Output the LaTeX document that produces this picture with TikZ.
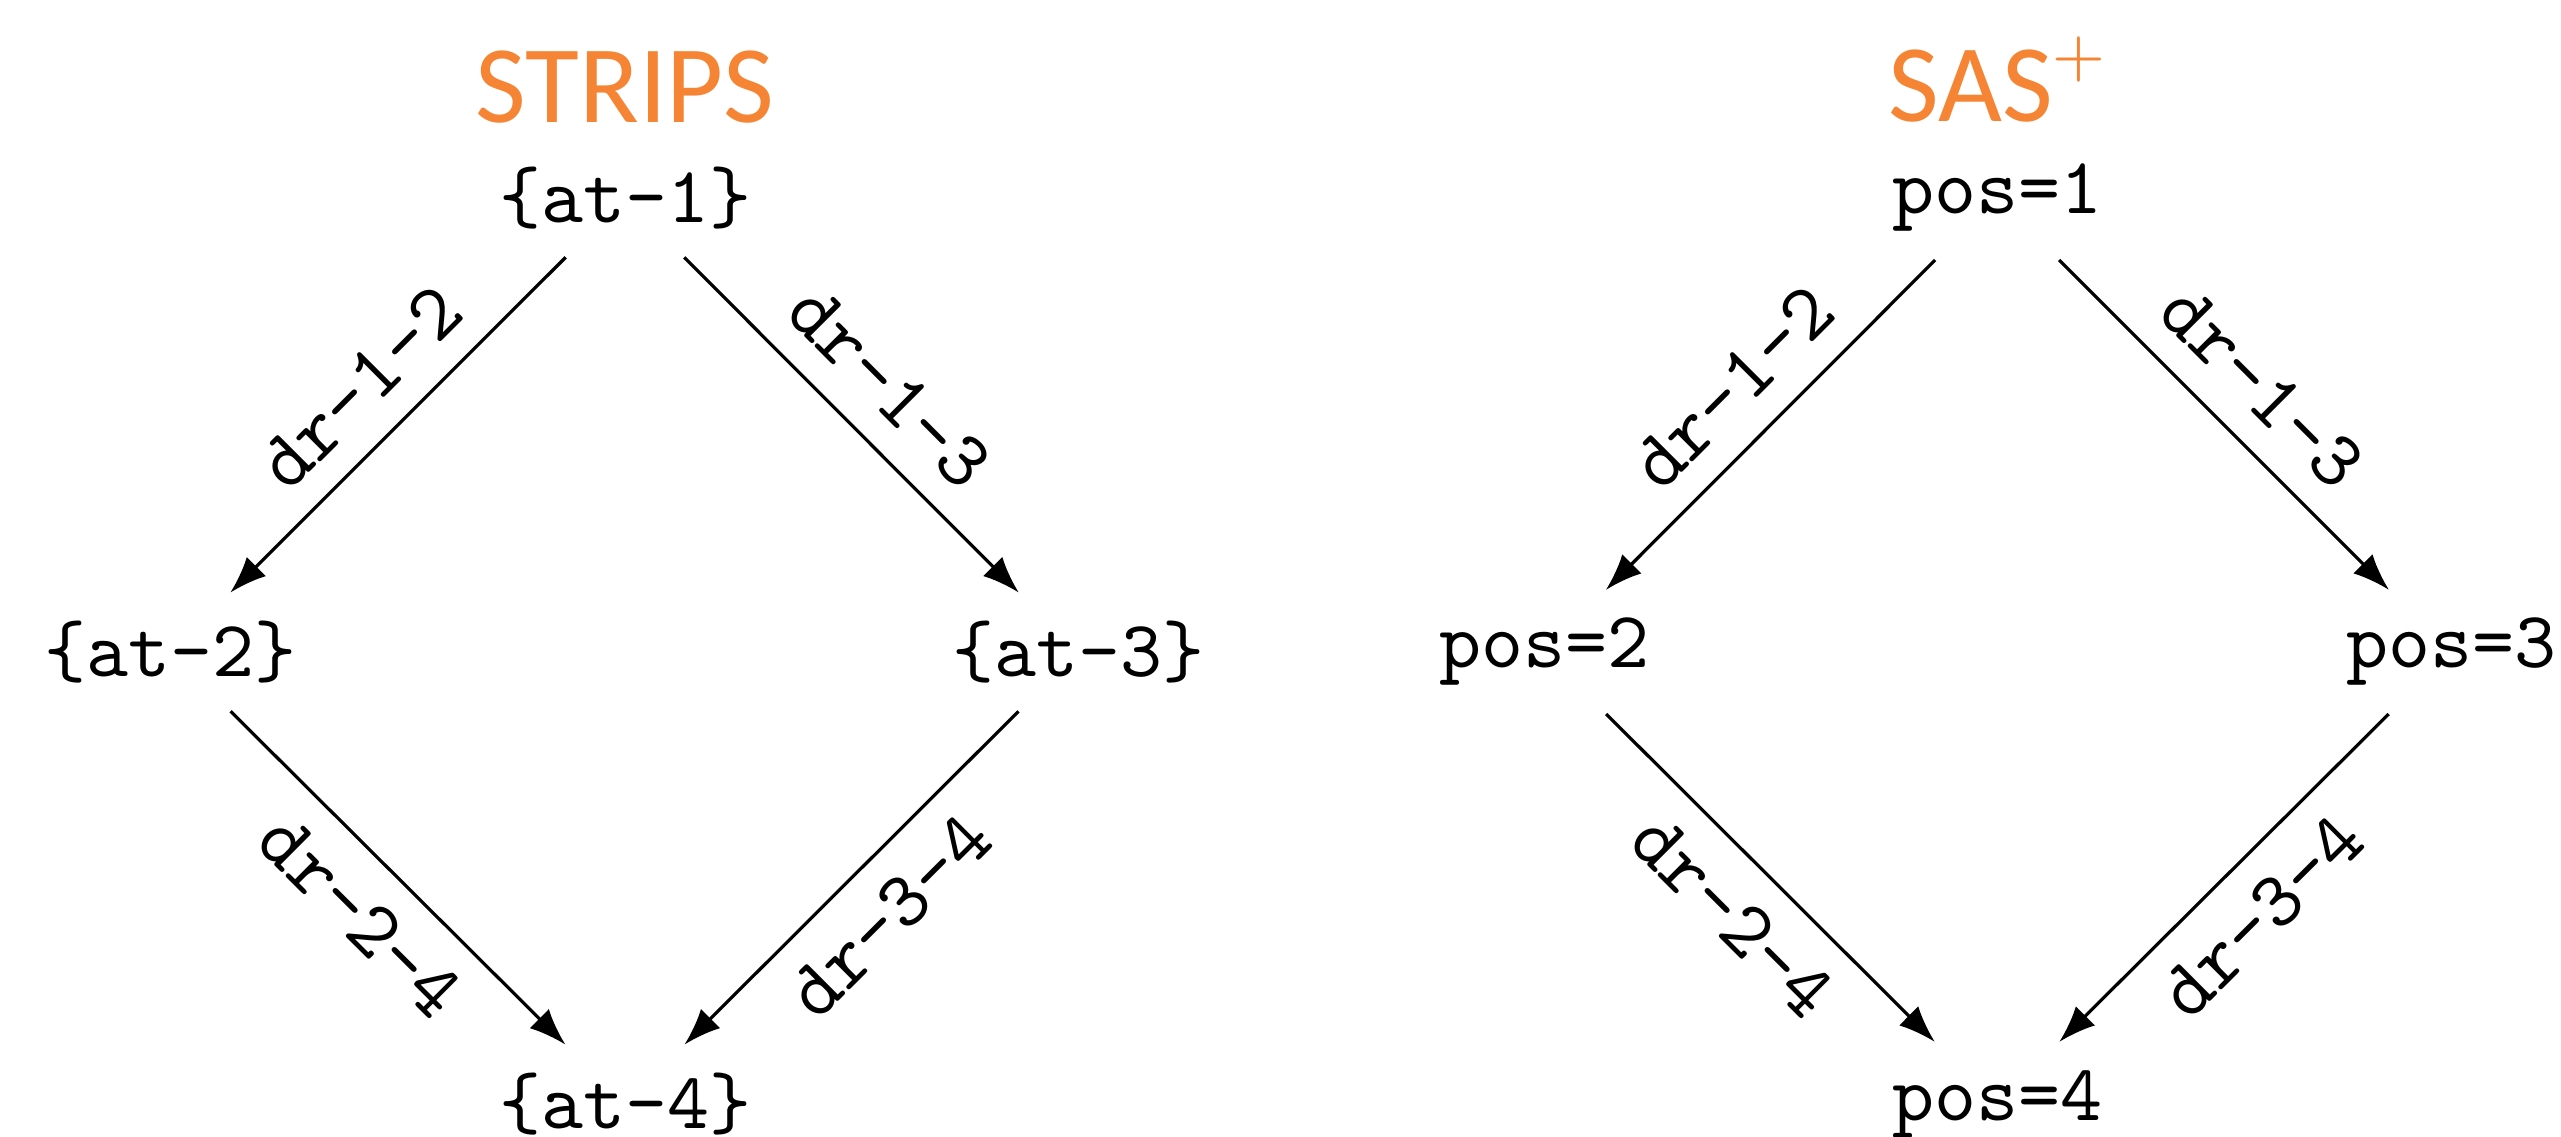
\documentclass[tikz,border=0pt]{standalone}
\usepackage{fontspec}
\newfontfamily\titlefont{Carlito}
\usetikzlibrary{arrows.meta}
\definecolor{titleorange}{RGB}{245,133,52}
\begin{document}
\begin{tikzpicture}[x=0.125pt,y=-0.125pt,
  state/.style={font=\ttfamily\fontsize{10pt}{12pt}\selectfont},
  titlelbl/.style={font=\titlefont\fontsize{13.8pt}{16pt}\selectfont, text=titleorange, anchor=base, inner sep=0pt},
  trans/.style={-{Latex[length=4.6pt,width=3.4pt]}, line width=0.4pt},
  lab/.style={font=\ttfamily\fontsize{10pt}{12pt}\selectfont, sloped, midway}]
\useasboundingbox (0,0) rectangle (2561,1137);
% STRIPS diamond
\node[titlelbl] (t1) at (625,123) {STRIPS};
\node[state] (a1) at (625,198) {\{at-1\}};
\node[state] (a2) at (171,652) {\{at-2\}};
\node[state] (a3) at (1078,652) {\{at-3\}};
\node[state] (a4) at (625,1104) {\{at-4\}};
\draw[trans] (a1) -- node[lab, above] {dr-1-2} (a2);
\draw[trans] (a1) -- node[lab, above] {dr-1-3} (a3);
\draw[trans] (a2) -- node[lab, below] {dr-2-4} (a4);
\draw[trans] (a3) -- node[lab, below] {dr-3-4} (a4);
% SAS+ diamond
\node[titlelbl] (t2) at (1997,122) {SAS\raisebox{5.8pt}{\fontsize{8pt}{9pt}\selectfont$+$}};
\node[state] (p1) at (1997,198) {pos=1};
\node[state] (p2) at (1544,652) {pos=2};
\node[state] (p3) at (2451,652) {pos=3};
\node[state] (p4) at (1997,1104) {pos=4};
\draw[trans] (p1) -- node[lab, above] {dr-1-2} (p2);
\draw[trans] (p1) -- node[lab, above] {dr-1-3} (p3);
\draw[trans] (p2) -- node[lab, below] {dr-2-4} (p4);
\draw[trans] (p3) -- node[lab, below] {dr-3-4} (p4);
\end{tikzpicture}
\end{document}
